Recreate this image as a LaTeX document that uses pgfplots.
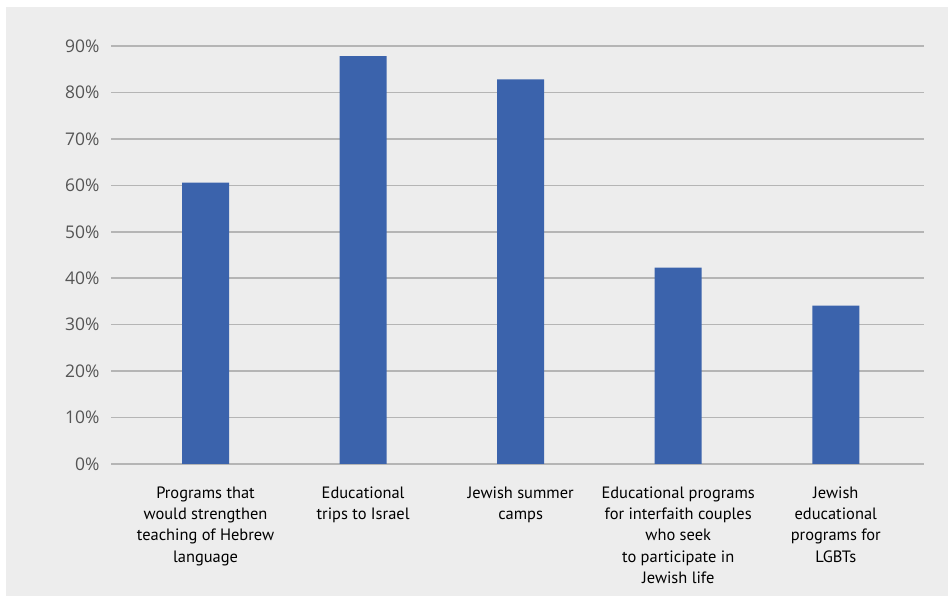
\documentclass[border=0pt]{standalone}
\usepackage{fontspec}
\usepackage{pgfplots}
\pgfplotsset{compat=1.18}
\setmainfont{PT Sans}
\newfontfamily\tickfont{Open Sans}
\definecolor{bggray}{HTML}{EDEDED}
\definecolor{barblue}{HTML}{3B63AC}
\definecolor{gridgray}{HTML}{B5B5B5}
\definecolor{ticktext}{HTML}{555555}
\begin{document}
\begin{tikzpicture}[x=1bp,y=1bp]
\path[use as bounding box] (0,0) rectangle (948,596);
\fill[white] (0,0) rectangle (948,596);
\fill[bggray] (6,0) rectangle (948,589);
\begin{axis}[
  at={(111bp,132bp)}, anchor=south west,
  scale only axis, width=813bp, height=418bp,
  xmin=-0.6, xmax=4.56, ymin=0, ymax=90,
  ytick={0,10,...,90},
  yticklabel={\pgfmathprintnumber{\tick}\%},
  /pgf/number format/assume math mode=true,
  ymajorgrids, grid style={gridgray, line width=1.6bp},
  axis line style={draw=none},
  major tick length=0pt,
  xtick=data,
  xticklabels={{Programs that\\would strengthen\\teaching of Hebrew\\language},
               {Educational\\trips to Israel},
               {Jewish summer\\camps},
               {Educational programs\\for interfaith couples\\who seek\\to participate in\\Jewish life},
               {Jewish\\educational\\programs for\\LGBTs}},
  xticklabel style={align=center, anchor=north, yshift=-19bp, font=\fontsize{16.5}{21.5}\selectfont, text=black},
  yticklabel style={font=\tickfont\fontsize{17.5}{20}\selectfont, text=ticktext, xshift=-8bp},
  ybar, bar width=47bp,
]
\addplot[fill=barblue, draw=none] coordinates {(0,60.6) (1,87.8) (2,82.8) (3,42.3) (4,34.1)};
\end{axis}
\end{tikzpicture}
\end{document}
